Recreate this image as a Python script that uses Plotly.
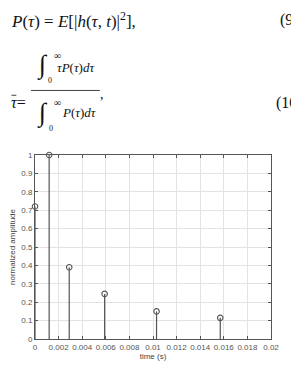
import plotly.graph_objects as go

# Data
times = [0.0, 0.0012, 0.0029, 0.0059, 0.0103, 0.0157]
amps = [0.72, 1.0, 0.39, 0.245, 0.15, 0.115]
xticks = [0, 0.002, 0.004, 0.006, 0.008, 0.01, 0.012, 0.014, 0.016, 0.018, 0.02]
xticklabels = ["0", "0.002", "0.004", "0.006", "0.008", "0.01", "0.012", "0.014", "0.016", "0.018", "0.02"]
yticks = [0, 0.1, 0.2, 0.3, 0.4, 0.5, 0.6, 0.7, 0.8, 0.9, 1]
yticklabels = ["0", "0.1", "0.2", "0.3", "0.4", "0.5", "0.6", "0.7", "0.8", "0.9", "1"]

W, H = 291, 371
L, R, T, B = 35, 16, 155, 25
PW, PH = W - L - R, H - T - B

def px(x):
    return (x - L) / PW

def py(y):
    return (H - B - y) / PH

stem_x, stem_y = [], []
for t, a in zip(times, amps):
    stem_x += [t, t, None]
    stem_y += [0, a, None]

fig = go.Figure()
fig.add_trace(go.Scatter(x=stem_x, y=stem_y, mode="lines",
                         line=dict(color="#555555", width=1.2),
                         hoverinfo="skip", showlegend=False, cliponaxis=False))
fig.add_trace(go.Scatter(x=times, y=amps, mode="markers",
                         marker=dict(symbol="circle-open", size=5.5, color="#555555",
                                     line=dict(width=1.1, color="#555555")),
                         showlegend=False, cliponaxis=False))

serif = "Liberation Serif"
eqc = "#111111"
ann = []
def A(x, y, text, size, xanchor="left", yanchor="middle"):
    ann.append(dict(x=px(x), y=py(y), xref="paper", yref="paper", text=text,
                    showarrow=False, xanchor=xanchor, yanchor=yanchor,
                    font=dict(family=serif, size=size, color=eqc)))

A(9, 15, "<i>P</i>(<i>τ</i>) = <i>E</i>[|<i>h</i>(<i>τ</i>, <i>t</i>)|<sup>2</sup>],", 17)
A(282, 15, "(9", 16)
A(9, 101, "<i>τ</i>=", 16)
# numerator
A(35, 62, "∫", 26)
A(52, 52, "∞", 10)
A(46, 78, "0", 8)
A(55, 64, "<i>τP</i>(<i>τ</i>)<i>dτ</i>", 13)
# denominator
A(35, 111, "∫", 26)
A(52, 101, "∞", 10)
A(47, 127, "0", 8)
A(60, 111, "<i>P</i>(<i>τ</i>)<i>dτ</i>", 13)
A(99, 92, ",", 14)
A(278, 101, "(10", 16)

fig.update_layout(
    width=W, height=H,
    margin=dict(l=L, r=R, t=T, b=B),
    paper_bgcolor="white", plot_bgcolor="white",
    font=dict(family="Liberation Sans", size=8, color="#555555"),
    annotations=ann,
    shapes=[dict(type="line", xref="paper", yref="paper",
                 x0=px(31), x1=px(101), y0=py(88), y1=py(88),
                 line=dict(color=eqc, width=0.8)),
            dict(type="line", xref="paper", yref="paper",
                 x0=px(11), x1=px(16), y0=py(93), y1=py(93),
                 line=dict(color=eqc, width=0.8))],
    xaxis=dict(range=[0, 0.02], tickvals=xticks, ticktext=xticklabels,
               showgrid=True, gridcolor="#e3e3e3", gridwidth=1,
               showline=True, linecolor="#555555", linewidth=1, mirror="ticks",
               ticks="inside", ticklen=3, tickcolor="#555555", zeroline=False,
               title=dict(text="time (s)", font=dict(size=8, color="#444444"), standoff=2)),
    yaxis=dict(range=[0, 1], tickvals=yticks, ticktext=yticklabels,
               showgrid=True, gridcolor="#e3e3e3", gridwidth=1,
               showline=True, linecolor="#555555", linewidth=1, mirror="ticks",
               ticks="inside", ticklen=3, tickcolor="#555555", zeroline=False,
               title=dict(text="normalized amplitude", font=dict(size=8, color="#444444"), standoff=4)),
)

fig.write_html("out.html")
